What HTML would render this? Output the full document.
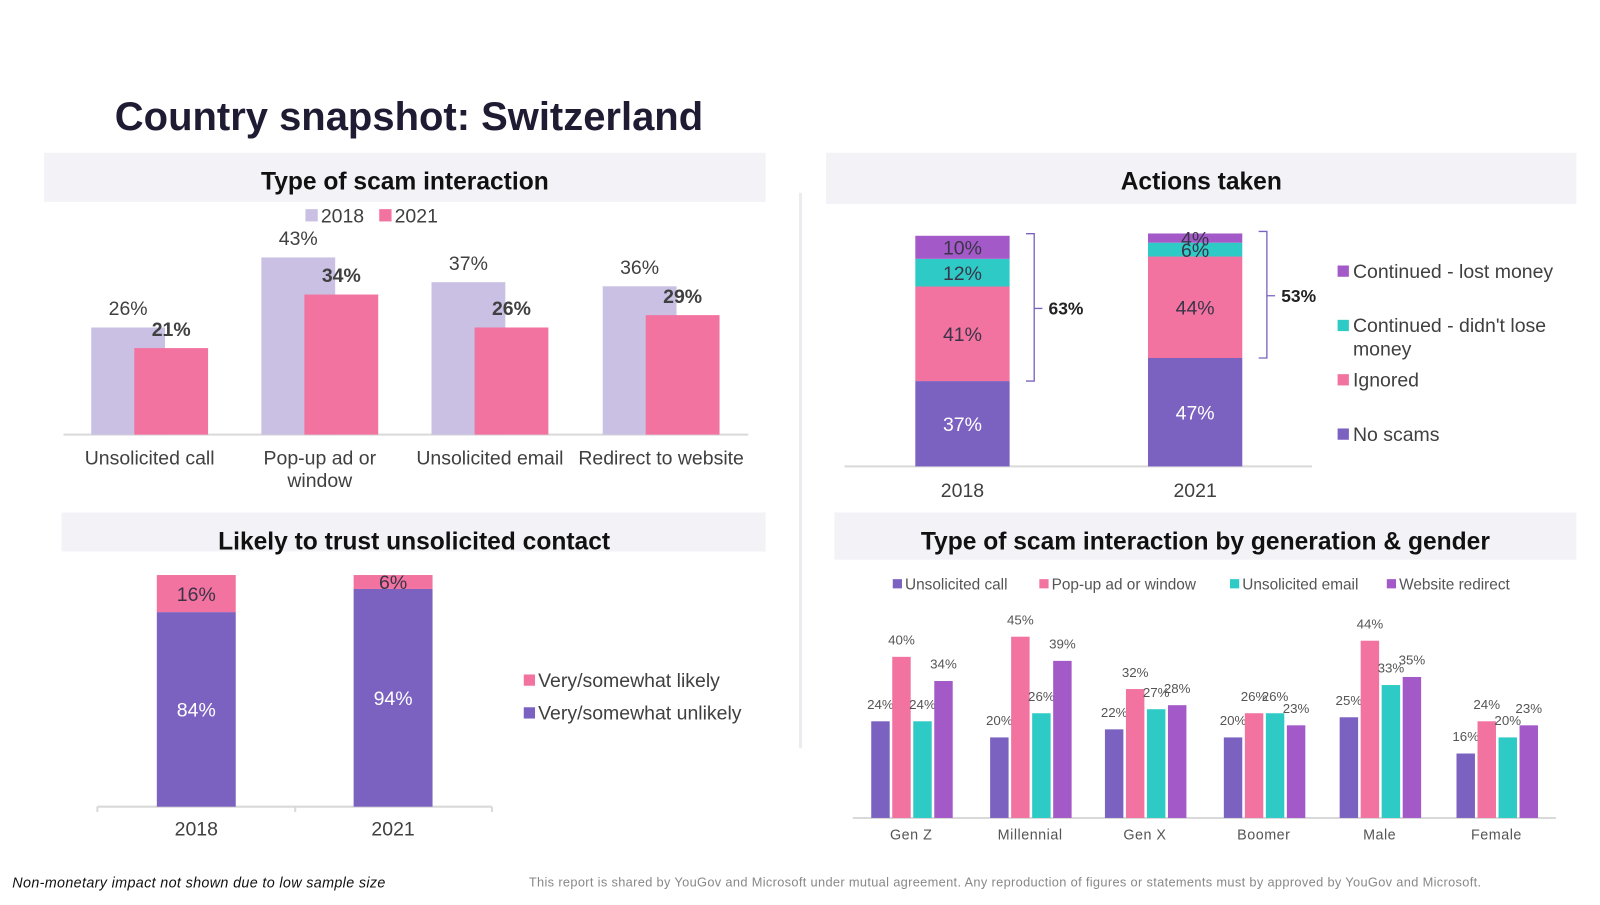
<!DOCTYPE html>
<html><head><meta charset="utf-8"><style>
body{margin:0;background:#fff;width:1600px;height:900px;overflow:hidden}
svg{font-family:"Liberation Sans",Arial,sans-serif}
</style></head><body>
<svg id="s" width="1600" height="900" viewBox="0 0 1561 878" xmlns="http://www.w3.org/2000/svg">
<text x="112" y="127" font-size="39" font-weight="bold" fill="#1e1b33" textLength="574">Country snapshot: Switzerland</text>
<rect x="43" y="149" width="704" height="48" fill="#f3f3f7"/>
<rect x="806" y="149" width="732" height="50" fill="#f3f3f7"/>
<rect x="60" y="500" width="687" height="38" fill="#f3f3f7"/>
<rect x="814" y="500" width="724" height="46" fill="#f3f3f7"/>
<line x1="781" y1="188" x2="781" y2="730" stroke="#ececf0" stroke-width="3"/>
<text x="395" y="185" font-size="24" font-weight="bold" text-anchor="middle" fill="#111">Type of scam interaction</text>
<text x="1172" y="185" font-size="24" font-weight="bold" text-anchor="middle" fill="#111">Actions taken</text>
<text x="404" y="536" font-size="24" font-weight="bold" text-anchor="middle" fill="#111">Likely to trust unsolicited contact</text>
<text x="1176" y="536" font-size="24" font-weight="bold" text-anchor="middle" fill="#111">Type of scam interaction by generation &amp; gender</text>
<g id="c1"></g><g id="c2"></g><g id="c3"></g><g id="c4"></g>
<text x="12" y="866" font-size="14" font-style="italic" fill="#111" textLength="364">Non-monetary impact not shown due to low sample size</text>
<text x="516" y="865" font-size="12.5" fill="#888" textLength="929">This report is shared by YouGov and Microsoft under mutual agreement. Any reproduction of figures or statements must by approved by YouGov and Microsoft.</text>
</svg>
<script>
const c1Cats=["Unsolicited call","Pop-up ad or window","Unsolicited email","Redirect to website"];
const c1v2018=[26,43,37,36];
const c1v2021=[21,34,26,29];
const c2Years=["2018","2021"];
const c2Series=["No scams","Ignored","Continued - didn't lose money","Continued - lost money"];
const c2Vals2018=[37,41,12,10];
const c2Vals2021=[47,44,6,4];
const c2Totals=[63,53];
const c3Years=["2018","2021"];
const c3Unlikely=[84,94];
const c3Likely=[16,6];
const c4Cats=["Gen Z","Millennial","Gen X","Boomer","Male","Female"];
const c4Series=["Unsolicited call","Pop-up ad or window","Unsolicited email","Website redirect"];
const c4Call=[24,20,22,20,25,16];
const c4Popup=[40,45,32,26,44,24];
const c4Email=[24,26,27,26,33,20];
const c4Redirect=[34,39,28,23,35,23];

const NS="http://www.w3.org/2000/svg";
function mk(p,t,a,txt){const e=document.createElementNS(NS,t);for(const k in a)e.setAttribute(k,a[k]);if(txt!==undefined)e.textContent=txt;p.appendChild(e);return e;}
const LAV="#c9c0e4",PINK="#f272a0",PUR="#7b62c1",TEAL="#2ecbc6",VIO="#a35ac8",TXT="#404040";

// chart 1
{const g=document.getElementById('c1');const base=424,k=4.02,centers=[146,312,478,645];
const y=v=>base-v*k;
let e=mk(g,'line',{x1:62,y1:base,x2:730,y2:base,stroke:'#d9d9d9','stroke-width':2});

c1Cats.forEach((c,i)=>{const cx=centers[i];
 let b=mk(g,'rect',{x:cx-57,y:y(c1v2018[i]),width:72,height:c1v2018[i]*k,fill:LAV});
 
 let t=mk(g,'text',{x:cx-21,y:y(c1v2018[i])-12,'font-size':19,'text-anchor':'middle',fill:TXT},c1v2018[i]+'%');
 
 b=mk(g,'rect',{x:cx-15,y:y(c1v2021[i]),width:72,height:c1v2021[i]*k,fill:PINK});
 
 t=mk(g,'text',{x:cx+21,y:y(c1v2021[i])-12,'font-size':19,'font-weight':'bold','text-anchor':'middle',fill:TXT},c1v2021[i]+'%');
 
 const parts=c.length>16&&c.indexOf('or')>0?[c.slice(0,c.indexOf(' window')),'window']:[c];
 parts.forEach((p,j)=>{const l=mk(g,'text',{x:cx,y:453+j*22,'font-size':19,'text-anchor':'middle',fill:TXT},p);
  });
});
[[298,LAV,'2018'],[370,PINK,'2021']].forEach(([x,c,n])=>{
 const r=mk(g,'rect',{x:x,y:204,width:12,height:12,fill:c});
 const t=mk(g,'text',{x:x+15,y:217,'font-size':19,fill:TXT},n);});
}
// chart 2
{const g=document.getElementById('c2');const base=455,k=2.25,xs=[893,1120],w=92,cols=[PUR,PINK,TEAL,VIO];
let e=mk(g,'line',{x1:824,y1:base,x2:1280,y2:base,stroke:'#d9d9d9','stroke-width':2});

[c2Vals2018,c2Vals2021].forEach((vals,i)=>{let acc=0;const x=xs[i];
 vals.forEach((v,j)=>{const yt=base-(acc+v)*k;
  const r=mk(g,'rect',{x:x,y:yt,width:w,height:v*k,fill:cols[j]});
  
  const t=mk(g,'text',{x:x+w/2,y:yt+v*k/2+7,'font-size':19,'text-anchor':'middle',fill:j==0?'#fff':'#3a3448'},v+'%');
  
  acc+=v;});
 const top=base-vals.reduce((a,b)=>a+b,0)*k,bot=base-vals[0]*k,bx=x+w+12,mid=(top+bot)/2;
 const p=mk(g,'path',{d:`M${bx+4},${top-2} L${bx+12},${top-2} L${bx+12},${bot} L${bx+4},${bot} M${bx+12},${mid} L${bx+20},${mid}`,stroke:PUR,fill:'none','stroke-width':1.3});
 
 const t=mk(g,'text',{x:bx+26,y:mid+6,'font-size':17,'font-weight':'bold',fill:'#222'},c2Totals[i]+'%');
 
 const l=mk(g,'text',{x:x+w/2,y:485,'font-size':19,'text-anchor':'middle',fill:TXT},c2Years[i]);
 
});
const leg=[[3,271,["Continued - lost money"]],[2,324,["Continued - didn't lose","money"]],[1,377,["Ignored"]],[0,430,["No scams"]]];
leg.forEach(([j,y,lines])=>{const r=mk(g,'rect',{x:1305,y:y-12,width:11,height:11,fill:cols[j]});
 
 lines.forEach((s,m)=>{const t=mk(g,'text',{x:1320,y:y+m*23,'font-size':19,fill:TXT},s);
 });});
}
// chart 3
{const g=document.getElementById('c3');const base=787,k=2.26,xs=[153,345],w=77;
let e=mk(g,'path',{d:`M95,${base} L480,${base} M95,${base} L95,${base+5} M288,${base} L288,${base+5} M480,${base} L480,${base+5}`,stroke:'#d9d9d9','stroke-width':2,fill:'none'});

c3Years.forEach((yr,i)=>{const x=xs[i];const u=c3Unlikely[i],l=c3Likely[i];
 let r=mk(g,'rect',{x:x,y:base-u*k,width:w,height:u*k,fill:PUR});
 let t=mk(g,'text',{x:x+w/2,y:base-u*k/2+7,'font-size':19,'text-anchor':'middle',fill:'#fff'},u+'%');
 r=mk(g,'rect',{x:x,y:base-(u+l)*k,width:w,height:l*k,fill:PINK});
 t=mk(g,'text',{x:x+w/2,y:base-(u+l/2)*k+7,'font-size':19,'text-anchor':'middle',fill:'#3a3448'},l+'%');
 t=mk(g,'text',{x:x+w/2,y:815,'font-size':19,'text-anchor':'middle',fill:TXT},yr);
});
[[PINK,670,'Very/somewhat likely'],[PUR,702,'Very/somewhat unlikely']].forEach(([c,y,s])=>{
 const r=mk(g,'rect',{x:511,y:y-12,width:11,height:11,fill:c});
 const t=mk(g,'text',{x:525,y:y,'font-size':19,fill:TXT},s);});
}
// chart 4
{const g=document.getElementById('c4');const base=798,k=3.93,centers=[889,1005,1117,1233,1346,1460],cols=[PUR,PINK,TEAL,VIO];
const series=[c4Call,c4Popup,c4Email,c4Redirect];
let e=mk(g,'line',{x1:832,y1:base,x2:1518,y2:base,stroke:'#d9d9d9','stroke-width':2});

c4Cats.forEach((c,i)=>{series.forEach((s,j)=>{const x=centers[i]-39+j*20.5,v=s[i];
 const r=mk(g,'rect',{x:x,y:base-v*k,width:18,height:v*k,fill:cols[j]});
 const t=mk(g,'text',{x:x+9,y:base-v*k-12,'font-size':13,'text-anchor':'middle',fill:'#555'},v+'%');});
 const t=mk(g,'text',{x:centers[i],y:819,'font-size':14,'text-anchor':'middle',fill:'#555','letter-spacing':'0.5'},c);
});
const lx=[871,1014,1200,1353];
c4Series.forEach((s,j)=>{const r=mk(g,'rect',{x:lx[j],y:565,width:9,height:9,fill:cols[j]});
 const t=mk(g,'text',{x:lx[j]+12,y:575,'font-size':15,fill:'#555'},s);});
}
</script>
</body></html>
